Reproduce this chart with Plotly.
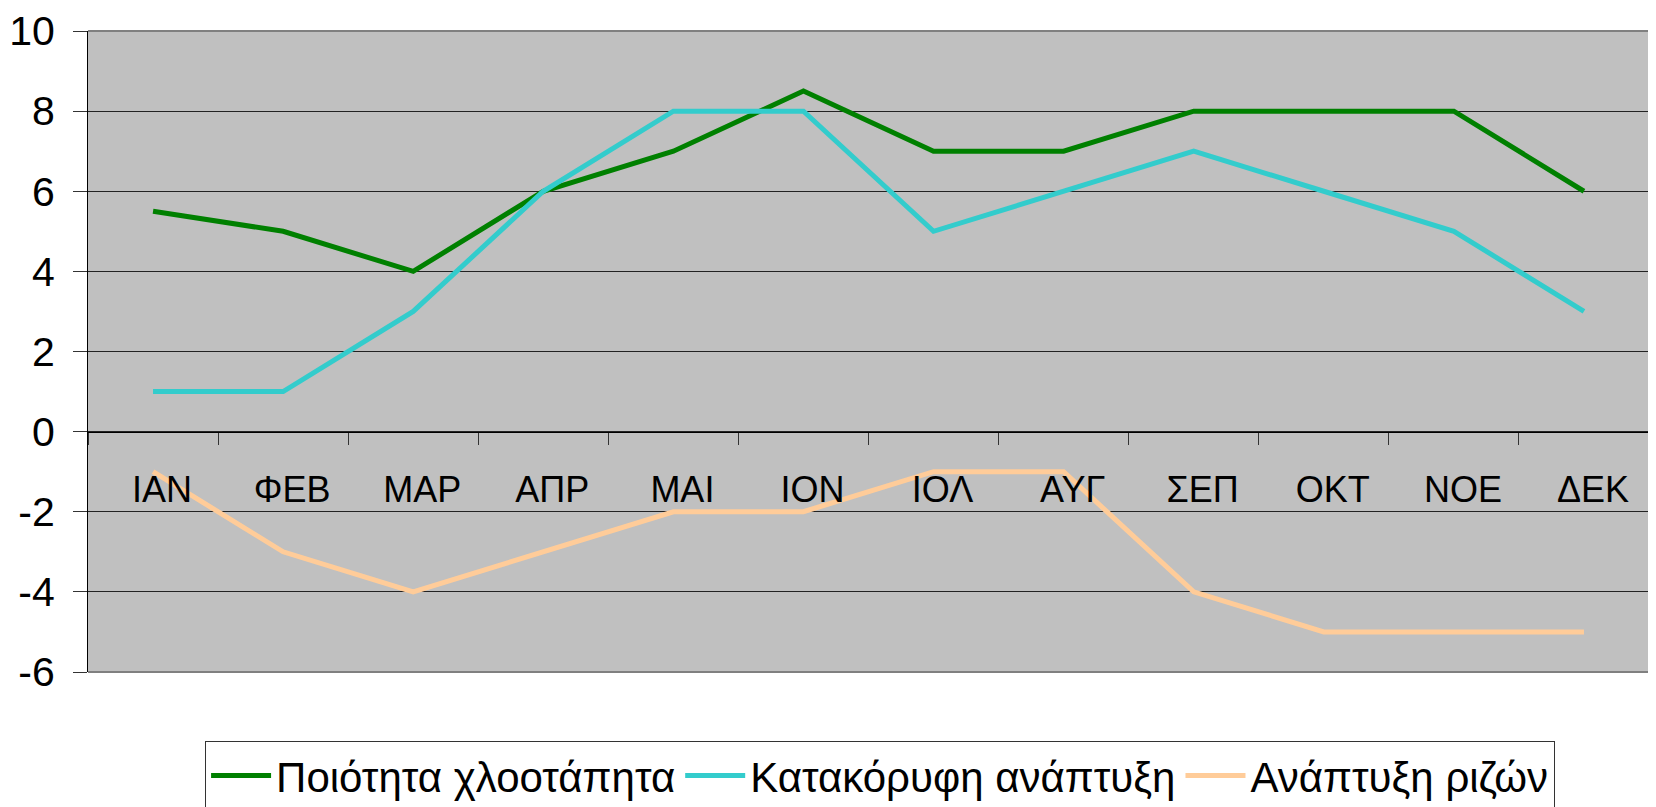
import plotly.graph_objects as go

months = ["ΙΑΝ", "ΦΕΒ", "ΜΑΡ", "ΑΠΡ", "ΜΑΙ", "ΙΟΝ", "ΙΟΛ", "ΑΥΓ", "ΣΕΠ", "ΟΚΤ", "ΝΟΕ", "ΔΕΚ"]
turf_quality = [5.5, 5, 4, 6, 7, 8.5, 7, 7, 8, 8, 8, 6]
vertical_growth = [1, 1, 3, 6, 8, 8, 5, 6, 7, 6, 5, 3]
root_growth = [-1, -3, -4, -3, -2, -2, -1, -1, -4, -5, -5, -5]
y_tick_values = [-6, -4, -2, 0, 2, 4, 6, 8, 10]
y_tick_labels = ["-6", "-4", "-2", "0", "2", "4", "6", "8", "10"]

series = [
    ("Ποιότητα χλοοτάπητα", turf_quality, "#008000"),
    ("Κατακόρυφη ανάπτυξη", vertical_growth, "#33CCCC"),
    ("Ανάπτυξη ριζών", root_growth, "#FFCC99"),
]

FONT = "Liberation Sans, Arial, sans-serif"

fig = go.Figure()
for name, vals, color in series:
    fig.add_trace(go.Scatter(x=months, y=vals, name=name, mode="lines",
                             line=dict(color=color, width=5)))

fig.update_layout(
    width=1656, height=807,
    paper_bgcolor="white", plot_bgcolor="#C0C0C0",
    margin=dict(l=80, r=15, t=23, b=143, autoexpand=False),
    font=dict(family=FONT, color="black"),
    showlegend=True,
    legend=dict(orientation="h", x=0.075, xanchor="left", y=-0.107, yanchor="top",
                bgcolor="white", bordercolor="#333333", borderwidth=1,
                font=dict(size=42, family=FONT), itemwidth=60, traceorder="normal"),
    xaxis=dict(type="category", range=[-0.5, 11.5], anchor="free", position=0.375,
               showline=True, linecolor="black", linewidth=1,
               ticks="outside", tickson="boundaries", ticklen=12, tickcolor="#333333",
               showgrid=False, tickfont=dict(size=36), ticklabelstandoff=26,
               ticklabelshift=9),
    yaxis=dict(range=[-6, 10], tickmode="array", tickvals=y_tick_values, ticktext=y_tick_labels,
               showgrid=True, gridcolor="#222222", gridwidth=1,
               zeroline=False, showline=True, linecolor="black", linewidth=1,
               ticks="outside", ticklen=14, tickcolor="#333333",
               tickfont=dict(size=41), ticklabelstandoff=10, ticklabeloverflow="allow"),
    shapes=[dict(type="line", xref="paper", yref="paper", x0=0, x1=1, y0=1, y1=1,
                 line=dict(color="#808080", width=2)),
            dict(type="line", xref="paper", yref="paper", x0=1, x1=1, y0=0, y1=1,
                 line=dict(color="#808080", width=2)),
            dict(type="line", xref="paper", yref="paper", x0=0, x1=1, y0=0, y1=0,
                 line=dict(color="#808080", width=2))],
)

fig.write_html("out.html")
